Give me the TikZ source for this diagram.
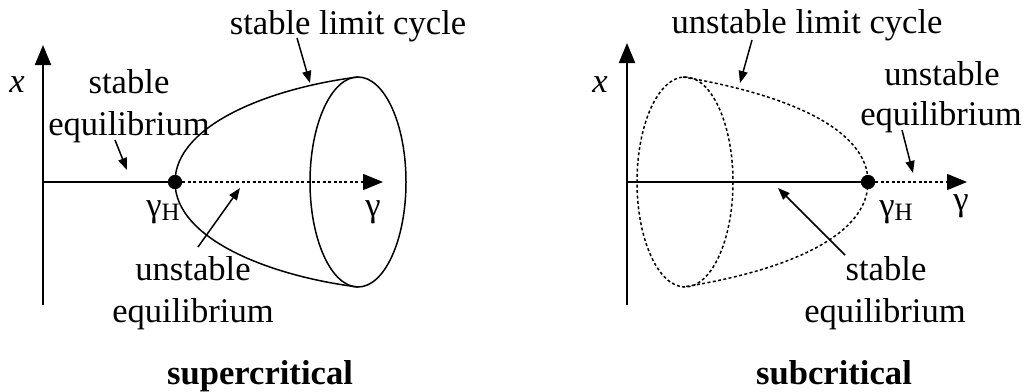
\documentclass[tikz,border=0pt]{standalone}
\usepackage{fontspec}
\setmainfont{Liberation Serif}
\usetikzlibrary{arrows.meta}
\tikzset{
  lbl/.style={anchor=base, inner sep=0pt, font=\fontsize{17.3}{20}\selectfont},
  axis/.style={line width=1pt, -{Triangle[length=10pt,width=8pt]}},
  pointer/.style={line width=0.75pt, -{Triangle[length=6pt,width=4.5pt]}},
  curve/.style={line width=0.75pt},
  dots/.style={line width=0.75pt, dash pattern=on 1.5pt off 1.2pt},
  eqdot/.style={circle, fill=black, inner sep=0pt, minimum size=7pt},
}
\newcommand{\gH}{γ\raisebox{-0.12em}{\fontsize{12.5}{12.5}\selectfont H}}
\begin{document}
\begin{tikzpicture}[x=0.5pt,y=-0.5pt]
\useasboundingbox (0,0) rectangle (1026,391);
% ---------- left: supercritical ----------
\coordinate (LO) at (43,182);
\coordinate (LT) at (43,45);
\coordinate (LB) at (43,305);
\coordinate (LR) at (383,182);
\node[eqdot] (LH) at (175,182) {};
\coordinate (LUp) at (358,77);
\coordinate (LDn) at (358,287);
\draw[axis] (LB) -- (LT);
\draw[line width=1pt] (LO) -- (LH.center);
\draw[axis, dots] (LH) -- (LR);
\draw[curve] (LUp) .. controls (270,88) and (175,125) .. (LH.center)
             .. controls (175,239) and (270,276) .. (LDn);
\draw[curve] (358,182) ellipse [x radius=48, y radius=105];
\node[eqdot] at (175,182) {};
\node[lbl] (Lx) at (17,92) {\itshape x};
\node[lbl] (Lg) at (373,216) {γ};
\node[lbl] (LgH) at (163,216) {\gH};
\node[lbl] (Lslc) at (348,34) {stable limit cycle};
\node[lbl] (Ls1) at (129,93) {stable};
\node[lbl] (Ls2) at (129,135) {equilibrium};
\node[lbl] (Lu1) at (193,280) {unstable};
\node[lbl] (Lu2) at (193,322) {equilibrium};
\node[lbl, font=\fontsize{17.3}{20}\selectfont\bfseries] (Lsup) at (260,384) {supercritical};
\coordinate (LslcT) at (297,38);
\coordinate (LslcH) at (310,83);
\coordinate (LsT) at (115,140);
\coordinate (LsH) at (127,170);
\coordinate (LuT) at (198,247);
\coordinate (LuH) at (240,188);
\draw[pointer] (LslcT) -- (LslcH);
\draw[pointer] (LsT) -- (LsH);
\draw[pointer] (LuT) -- (LuH);
% ---------- right: subcritical ----------
\coordinate (RO) at (627,182);
\coordinate (RT) at (627,43);
\coordinate (RB) at (627,305);
\coordinate (RR) at (967,182);
\node[eqdot] (RH) at (868,182) {};
\coordinate (RUp) at (683,77);
\coordinate (RDn) at (683,287);
\draw[axis] (RB) -- (RT);
\draw[line width=1pt] (RO) -- (RH.center);
\draw[axis, dots] (RH) -- (RR);
\draw[dots] (685,182) ellipse [x radius=48, y radius=105];
\draw[dots] (RUp) .. controls (790,95) and (868,130) .. (RH.center)
            .. controls (868,235) and (790,270) .. (RDn);
\node[eqdot] at (868,182) {};
\node[lbl] (Rx) at (600,92) {\itshape x};
\node[lbl] (Rg) at (961,210) {γ};
\node[lbl] (RgH) at (896,216) {\gH};
\node[lbl] (Rulc) at (807,33) {unstable limit cycle};
\node[lbl] (Ru1) at (942,85) {unstable};
\node[lbl] (Ru2) at (941,125) {equilibrium};
\node[lbl] (Rs1) at (886,280) {stable};
\node[lbl] (Rs2) at (885,322) {equilibrium};
\node[lbl, font=\fontsize{17.3}{20}\selectfont\bfseries] (Rsub) at (834,384) {subcritical};
\coordinate (RulcT) at (752,40);
\coordinate (RulcH) at (740,83);
\coordinate (RuT) at (902,130);
\coordinate (RuH) at (913,173);
\coordinate (RsT) at (845,255);
\coordinate (RsH) at (778,188);
\draw[pointer] (RulcT) -- (RulcH);
\draw[pointer] (RuT) -- (RuH);
\draw[pointer] (RsT) -- (RsH);
\end{tikzpicture}
\end{document}
